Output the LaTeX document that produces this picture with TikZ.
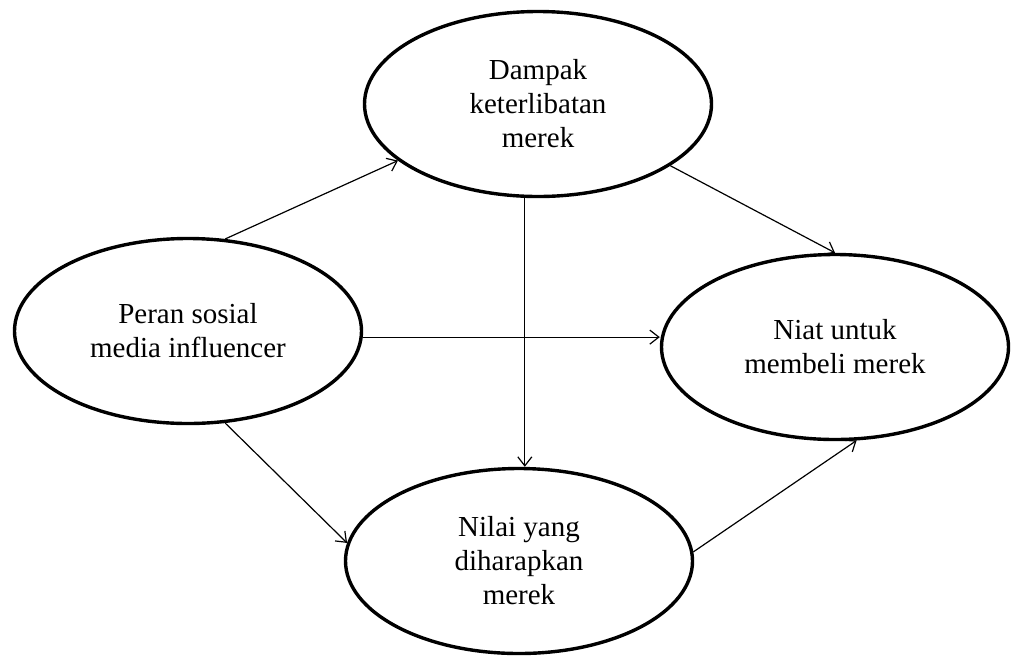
\documentclass[tikz,border=0pt]{standalone}
\usepackage{fontspec}
\setmainfont{Liberation Serif}
\usepackage{tikz}
\usetikzlibrary{positioning,arrows.meta,calc,shapes.geometric}

\begin{document}
\begin{tikzpicture}[x=1pt, y=-1pt,
            construct/.style={ellipse, draw, line width=3.4pt, minimum width=347pt, minimum height=185pt, inner sep=0pt, align=center, font=\fontsize{29}{34}\selectfont},
            arrow/.style={-{Straight Barb[length=9pt, width=14pt]}, line width=1.2pt}
        ]
            \useasboundingbox (0,0) rectangle (1011,657);
            \node[construct] (peran) at (188,331) {Peran sosial\\media influencer};
            \node[construct] (dampak) at (538,104) {Dampak\\keterlibatan\\merek};
            \node[construct] (niat) at (835,347) {Niat untuk\\membeli merek};
            \node[construct] (nilai) at (519,561) {Nilai yang\\diharapkan\\merek};
            \draw[arrow] (peran.68) -- (dampak.202);
            \draw[arrow] (peran.-2) -- (peran.-2 -| niat.west);
            \draw[arrow] (peran.-68) -- (nilai.174);
            \draw[arrow] (dampak.262) -- (dampak.262 |- nilai.north);
            \draw[arrow] (dampak.-25) -- (niat.north);
            \draw[arrow] (nilai.3) -- (niat.-77);
        \end{tikzpicture}
\end{document}
